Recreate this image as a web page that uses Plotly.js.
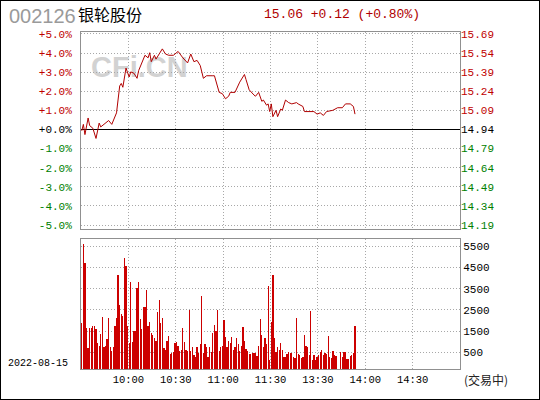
<!DOCTYPE html>
<html>
<head>
<meta charset="utf-8">
<script src="https://cdn.plot.ly/plotly-3.0.1.min.js"></script>
<style>
    body { margin: 0; background: #fff; }
    #wrap { position: relative; width: 540px; height: 400px; }
    #chart { width: 540px; height: 400px; }
    #frame { position: absolute; left: 0; top: 0; width: 538px; height: 398px; border: 1px solid #000; pointer-events: none; }
</style>
</head>
<body>
<div id="wrap">
    <div id="chart"></div>
    <div id="frame"></div>
</div>
<script>
// Quote header
const stockCode = '002126';
const stockName = '银轮股份';
const quoteText = '15.06 +0.12 (+0.80%)';
const tradeDate = '2022-08-15';
const prevClose = 14.94;

// Intraday price (vertices)
const priceTimes = [
    '09:30', '09:31', '09:32', '09:34', '09:35', '09:37', '09:39', '09:41', '09:42', '09:44',
    '09:47', '09:49', '09:51', '09:52', '09:54', '09:55', '09:56', '09:58', '10:00', '10:01',
    '10:03', '10:05', '10:06', '10:08', '10:10', '10:12', '10:13', '10:14', '10:16', '10:17',
    '10:19', '10:21', '10:23', '10:25', '10:28', '10:31', '10:34', '10:37', '10:39', '10:41',
    '10:43', '10:45', '10:47', '10:49', '10:53', '10:54', '10:57', '10:59', '11:01', '11:03',
    '11:04', '11:07', '11:10', '11:13', '11:14', '11:16', '11:19', '11:20', '11:22', '11:24',
    '11:25', '11:27', '11:28', '11:29', '13:00', '13:01', '13:03', '13:04', '13:06', '13:07',
    '13:09', '13:11', '13:13', '13:16', '13:17', '13:20', '13:21', '13:24', '13:27', '13:29',
    '13:31', '13:33', '13:35', '13:39', '13:42', '13:45', '13:47', '13:50', '13:52', '13:53'
];
const prices = [
    14.93, 14.98, 14.90, 15.03, 14.97, 14.95, 14.87, 14.99, 14.96, 14.98,
    15.01, 14.98, 15.05, 15.07, 15.28, 15.30, 15.27, 15.42, 15.35, 15.39,
    15.38, 15.34, 15.40, 15.46, 15.52, 15.50, 15.54, 15.47, 15.52, 15.49,
    15.53, 15.57, 15.53, 15.52, 15.52, 15.55, 15.50, 15.46, 15.53, 15.47,
    15.48, 15.44, 15.34, 15.36, 15.36, 15.36, 15.23, 15.22, 15.18, 15.20,
    15.23, 15.23, 15.31, 15.37, 15.33, 15.25, 15.21, 15.20, 15.23, 15.16,
    15.17, 15.13, 15.14, 15.08, 15.14, 15.04, 15.09, 15.04, 15.10, 15.09,
    15.17, 15.15, 15.14, 15.15, 15.14, 15.12, 15.08, 15.08, 15.08, 15.06,
    15.07, 15.05, 15.08, 15.09, 15.11, 15.11, 15.14, 15.14, 15.12, 15.06
];

// Volume per minute from 09:30 (null = no bar)
const volumes = [
    1880, 5600, 4700, 1650, 700, 1650, 1650, 1760, 1760, 1620,
    940, 830, 1370, 2170, 780, 830, 1150, 2120, 780, 550,
    780, 1770, 2120, 4120, 2750, 2310, 2210, 4920, 4560, 1730,
    940, 3800, 990, 1520, 1490, 3530, 3800, 2070, 1620, 2640,
    2640, 3460, 1760, 1920, 1440, 1330, 1180, 1050, 2400, 2990,
    1880, 2120, 700, 600, 1020, 1300, 420, 470, 520,
    940, 990, 830, 550, 630, 1650, 990, 630, 550, 2480,
    550, 740, 390, 310, 740, 500, 900, 3140, 470, 900,
    780, 310, 740, 520, 1410, 1810, 1490, 2500, 550, 780,
    830, 2040, 1250, 780, 1020, 940, 1250, 630, 740, 1180,
    900, 550, 830, 1680, 1020, 660, 550, 420, 450, 500,
    500, 470, 360, 830, 2070, 1330, 740, 1180,
    900, 3610, 160, 1930, 4160, 1180, 520, 740, 630, 940,
    630, 270, 310, 420, 520, 470, 500, 270, 230, 2120,
    420, 390, 230, 270, 1330, 830, 740, 390, 2470, 160,
    390, 160, 310, 390, 520, 630, 390, 470, 420, 1280,
    270, 230, 580, 390, 360, null, null, 520, 310, 520,
    520, 200, 200, 360, 390, 470, 1760
];

// Axis labels
const timeTicks = ['10:00', '10:30', '11:00', '11:30', '13:30', '14:00', '14:30'];
const pctTicks = [5, 4, 3, 2, 1, 0, -1, -2, -3, -4, -5];
const pctLabels = ['+5.0%', '+4.0%', '+3.0%', '+2.0%', '+1.0%', '+0.0%', '-1.0%', '-2.0%', '-3.0%', '-4.0%', '-5.0%'];
const priceLabels = ['15.69', '15.54', '15.39', '15.24', '15.09', '14.94', '14.79', '14.64', '14.49', '14.34', '14.19'];
const volTicks = [500, 1500, 2500, 3500, 4500, 5500];

const RED = '#c00000';
const GREEN = '#008000';
const MONO = 'Liberation Mono, DejaVu Sans Mono, monospace';
const CJK = 'Noto Sans CJK SC, sans-serif';

// minutes since open, lunch break removed
function slot(t) {
    const [h, m] = t.split(':').map(Number);
    const mins = h * 60 + m;
    return mins < 13 * 60 ? mins - (9 * 60 + 30) : mins - 13 * 60 + 120;
}

function colorFor(v, text) {
    const c = v > 0 ? RED : (v < 0 ? GREEN : '#000');
    return '<span style="color:' + c + '">' + text + '</span>';
}

const pctRange = [-5.18, 5.1];
const volRange = [-274, 5858];
const volFloor = volRange[0];

const gridStyle = { showgrid: true, gridcolor: '#a8a8a8', griddash: '1px,2px', gridwidth: 1 };
const frameStyle = { showline: true, mirror: true, linecolor: '#909090', linewidth: 1 };

const priceTrace = {
    x: priceTimes.map(t => slot(t) + 0.5),
    y: prices,
    xaxis: 'x',
    yaxis: 'y2',
    type: 'scatter',
    mode: 'lines',
    line: { color: '#b00000', width: 1 },
    hoverinfo: 'skip'
};

const volTrace = {
    x: volumes.map((v, i) => i + 0.5),
    y: volumes.map(v => v === null ? null : v - volFloor),
    base: volFloor,
    xaxis: 'x2',
    yaxis: 'y3',
    type: 'bar',
    width: 0.8,
    marker: { color: '#cc0000', line: { width: 0 } },
    hoverinfo: 'skip'
};

// plot box: 81..460 px wide, 32..369 px tall
const plotTop = 32, plotBottom = 369, plotLeft = 81, plotRight = 460;
const plotH = plotBottom - plotTop, plotW = plotRight - plotLeft;
const px = x => (x - plotLeft) / plotW;
const py = y => (plotBottom - y) / plotH;

const layout = {
    width: 540,
    height: 400,
    margin: { t: plotTop, b: 400 - plotBottom, l: plotLeft, r: 540 - plotRight, pad: 0 },
    paper_bgcolor: '#fff',
    plot_bgcolor: '#fff',
    showlegend: false,
    font: { family: MONO, size: 11, color: '#000' },
    xaxis: {
        domain: [0, 1], anchor: 'y', range: [0, 240],
        tickvals: [30, 60, 90, 120, 150, 180, 210], showticklabels: false,
        zeroline: false, ...gridStyle, ...frameStyle
    },
    xaxis2: {
        domain: [0, 1], anchor: 'y3', range: [0, 240], matches: 'x',
        tickvals: [30, 60, 90, 120, 150, 180, 210], ticktext: timeTicks,
        tickfont: { family: MONO, size: 10.5, color: '#000' },
        zeroline: false, ...gridStyle, ...frameStyle
    },
    yaxis: {
        domain: [py(228.5), 1], anchor: 'x', range: pctRange,
        tickvals: pctTicks, ticktext: pctTicks.map((v, i) => colorFor(v, pctLabels[i])),
        tickfont: { family: MONO, size: 11 }, ticklabelstandoff: 6,
        zeroline: true, zerolinecolor: '#000', zerolinewidth: 1,
        ...gridStyle, ...frameStyle
    },
    yaxis2: {
        overlaying: 'y', side: 'right', anchor: 'x',
        range: pctRange.map(p => prevClose * (1 + p / 100)),
        tickvals: pctTicks.map(p => prevClose * (1 + p / 100)),
        ticktext: pctTicks.map((v, i) => colorFor(v, priceLabels[i])),
        tickfont: { family: MONO, size: 11 },
        showgrid: false, zeroline: false, showline: false
    },
    yaxis3: {
        domain: [0, py(238.5)], anchor: 'x2', side: 'right', range: volRange,
        tickvals: volTicks, tickfont: { family: MONO, size: 11, color: '#000' },
        zeroline: false, ...gridStyle, ...frameStyle
    },
    bargap: 0,
    shapes: [{
        // CFi.CN watermark behind the line
        type: 'rect', xref: 'x', yref: 'y', layer: 'below',
        x0: 18, x1: 56, y0: 2.9, y1: 3.9,
        line: { width: 0 }, fillcolor: 'rgba(0,0,0,0)',
        label: { text: 'CFi.CN', textposition: 'middle center', font: { family: 'Liberation Sans, Arial', size: 29, color: '#d2d2d2', weight: 'bold' } }
    }],
    annotations: [
        { text: stockCode, xref: 'paper', yref: 'paper', x: px(7), y: py(16), xanchor: 'left', yanchor: 'middle', showarrow: false, font: { family: 'Liberation Sans, Arial', size: 20, color: '#9a9a9a' } },
        { text: stockName, xref: 'paper', yref: 'paper', x: px(76), y: py(14), xanchor: 'left', yanchor: 'middle', showarrow: false, font: { family: CJK, size: 16, color: '#000' } },
        { text: quoteText, xref: 'paper', yref: 'paper', x: px(262), y: py(15), xanchor: 'left', yanchor: 'middle', showarrow: false, font: { family: MONO, size: 13, color: '#b00000' } },
        { text: tradeDate, xref: 'paper', yref: 'paper', x: px(6), y: py(363), xanchor: 'left', yanchor: 'middle', showarrow: false, font: { family: MONO, size: 10, color: '#000' } },
        { text: '(交易中)', xref: 'paper', yref: 'paper', x: px(462), y: py(380), xanchor: 'left', yanchor: 'middle', showarrow: false, font: { family: CJK, size: 12, color: '#222' } }
    ]
};

Plotly.newPlot('chart', [volTrace, priceTrace], layout, { staticPlot: true, displayModeBar: false });
</script>
</body>
</html>
